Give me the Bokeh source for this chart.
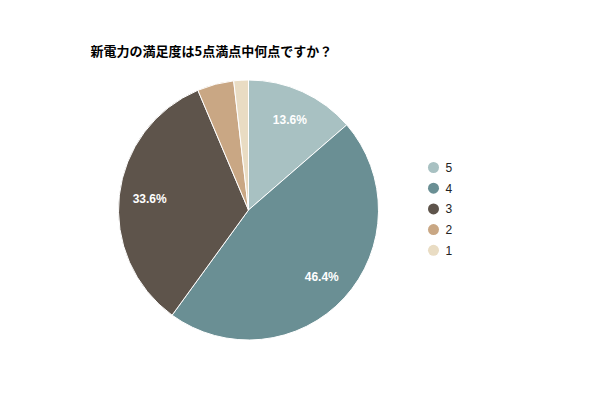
import numpy as np
from bokeh.plotting import figure
from bokeh.models import Range1d, ColumnDataSource
from bokeh.core.properties import value
from bokeh.embed import file_html
from bokeh.resources import INLINE

title = "新電力の満足度は5点満点中何点ですか？"
categories = ["5", "4", "3", "2", "1"]
counts = [15, 51, 37, 5, 2]
colors = ["#a8c1c2", "#6a8f94", "#5e544b", "#c9a784", "#e9dcc3"]

W, H = 584, 384
p = figure(width=W, height=H, output_backend="svg", toolbar_location=None,
           x_range=Range1d(0, W), y_range=Range1d(0, H), min_border=0)
p.axis.visible = False
p.grid.visible = False
p.outline_line_color = None
p.background_fill_color = "white"
p.border_fill_color = "white"

cx, cy, r = 248, 174.5, 130
vals = np.array(counts, dtype=float)
frac = vals / vals.sum()
cum = np.concatenate([[0], np.cumsum(frac)])
start = np.pi / 2 - 2 * np.pi * cum[:-1]
end = np.pi / 2 - 2 * np.pi * cum[1:]
src = ColumnDataSource(dict(start=start, end=end, color=colors, cat=categories))
p.wedge(x=cx, y=cy, radius=r, start_angle="start", end_angle="end",
        direction="clock", fill_color="color", line_color="white", line_width=1,
        source=src)

# percentage labels for large slices
mid = np.pi / 2 - 2 * np.pi * (cum[:-1] + frac / 2)
lab_r = 0.765 * r
show = frac > 0.08
lx = cx + lab_r * np.cos(mid[show])
ly = cy + lab_r * np.sin(mid[show])
labels = [f"{f*100:.1f}%" for f in frac[show]]
p.text(x=lx, y=ly, text=labels, text_color="white", text_font=value("Liberation Sans"),
       text_font_size="12px", text_font_style="bold", text_align="center",
       text_baseline="middle")

# title
p.text(x=[90], y=[H - 50], text=[title], text_font=value("Noto Sans CJK JP"),
       text_font_style="bold", text_font_size="13px", text_color="#000000",
       text_align="left", text_baseline="middle")

# legend
n = len(categories)
leg_y = H - (167 + 20.7 * np.arange(n))
p.scatter(x=[433] * n, y=leg_y, size=11, marker="circle", fill_color=colors, line_color=None)
p.text(x=[445] * n, y=leg_y, text=categories, text_font=value("Liberation Sans"),
       text_font_size="12px", text_color="#222222", text_align="left", text_baseline="middle")

open("out.html", "w").write(file_html(p, INLINE))
